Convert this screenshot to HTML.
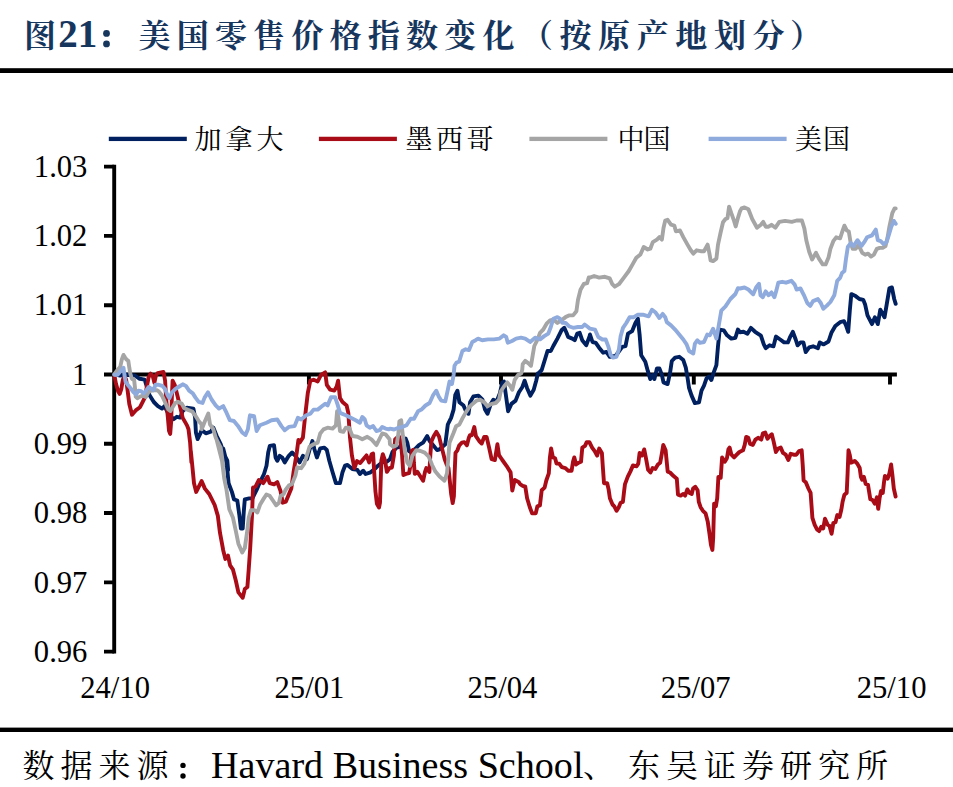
<!DOCTYPE html>
<html lang="zh"><head><meta charset="utf-8"><title>图21</title>
<style>html,body{margin:0;padding:0;background:#fff}body{width:953px;height:787px;overflow:hidden;position:relative;font-family:"Liberation Serif",serif}</style>
</head><body>
<svg width="953" height="787" viewBox="0 0 953 787" style="position:absolute;left:0;top:0">
<rect width="953" height="787" fill="#fff"/>
<text x="24" y="46.5" font-family="'Liberation Serif','Noto Serif CJK SC',serif" font-weight="bold" font-size="32" fill="#17365d">图</text>
<text x="58.2" y="46.5" font-family="Liberation Serif" font-weight="bold" font-size="39" fill="#17365d">21</text>
<circle cx="106.5" cy="33.4" r="3.4" fill="#17365d"/><circle cx="106.5" cy="43.9" r="3.4" fill="#17365d"/>
<text x="138.5" y="46.5" font-family="'Liberation Serif','Noto Serif CJK SC',serif" font-weight="bold" font-size="32" fill="#17365d" textLength="376" lengthAdjust="spacing">美国零售价格指数变化</text>
<text x="559.5" y="46.5" font-family="'Liberation Serif','Noto Serif CJK SC',serif" font-weight="bold" font-size="32" fill="#17365d" textLength="225" lengthAdjust="spacing">按原产地划分</text>
<text x="553" y="46.5" text-anchor="end" font-family="'Liberation Serif','Noto Serif CJK SC',serif" font-weight="bold" font-size="32" fill="#17365d">（</text>
<text x="790" y="46.5" font-family="'Liberation Serif','Noto Serif CJK SC',serif" font-weight="bold" font-size="32" fill="#17365d">）</text>
<rect x="0" y="68.2" width="953" height="4.8" fill="#000"/>
<rect x="0" y="727.6" width="953" height="4.4" fill="#000"/>
<rect x="108.8" y="136.75" width="78" height="4.3" fill="#002060"/>
<text x="194.5" y="148.5" font-family="'Liberation Serif','Noto Serif CJK SC',serif" font-size="27" fill="#000" textLength="89" lengthAdjust="spacing">加拿大</text>
<rect x="318.9" y="136.75" width="78" height="4.3" fill="#a90c17"/>
<text x="405.5" y="148.5" font-family="'Liberation Serif','Noto Serif CJK SC',serif" font-size="27" fill="#000" textLength="88" lengthAdjust="spacing">墨西哥</text>
<rect x="529.4" y="136.75" width="78" height="4.3" fill="#a5a5a5"/>
<text x="617.5" y="148.5" font-family="'Liberation Serif','Noto Serif CJK SC',serif" font-size="27" fill="#000" textLength="53" lengthAdjust="spacing">中国</text>
<rect x="708.6" y="136.75" width="78" height="4.3" fill="#8faadc"/>
<text x="795" y="148.5" font-family="'Liberation Serif','Noto Serif CJK SC',serif" font-size="27" fill="#000" textLength="55" lengthAdjust="spacing">美国</text>
<path d="M104,166.60 H114.2 M104,235.89 H114.2 M104,305.18 H114.2 M104,374.47 H114.2 M104,443.76 H114.2 M104,513.05 H114.2 M104,582.34 H114.2 M104,651.63 H114.2" stroke="#000" stroke-width="3.9" fill="none"/>
<line x1="114.2" y1="164.65" x2="114.2" y2="653.58" stroke="#000" stroke-width="3.9"/>
<line x1="114.2" y1="374.47" x2="896.9" y2="374.47" stroke="#000" stroke-width="3.9"/>
<path d="M308.9,374.47 V384.47 M501.0,374.47 V384.47 M693.8,374.47 V384.47 M890.0,374.47 V384.47" stroke="#000" stroke-width="3.9" fill="none"/>
<text x="87.4" y="176.8" text-anchor="end" font-family="Liberation Serif" font-size="30.6" fill="#000">1.03</text>
<text x="87.4" y="246.1" text-anchor="end" font-family="Liberation Serif" font-size="30.6" fill="#000">1.02</text>
<text x="87.4" y="315.4" text-anchor="end" font-family="Liberation Serif" font-size="30.6" fill="#000">1.01</text>
<text x="87.4" y="384.7" text-anchor="end" font-family="Liberation Serif" font-size="30.6" fill="#000">1</text>
<text x="87.4" y="454.0" text-anchor="end" font-family="Liberation Serif" font-size="30.6" fill="#000">0.99</text>
<text x="87.4" y="523.3" text-anchor="end" font-family="Liberation Serif" font-size="30.6" fill="#000">0.98</text>
<text x="87.4" y="592.5" text-anchor="end" font-family="Liberation Serif" font-size="30.6" fill="#000">0.97</text>
<text x="87.4" y="661.8" text-anchor="end" font-family="Liberation Serif" font-size="30.6" fill="#000">0.96</text>
<text x="115.1" y="698.0" text-anchor="middle" font-family="Liberation Serif" font-size="30.6" fill="#000">24/10</text>
<text x="309.4" y="698.0" text-anchor="middle" font-family="Liberation Serif" font-size="30.6" fill="#000">25/01</text>
<text x="502.4" y="698.0" text-anchor="middle" font-family="Liberation Serif" font-size="30.6" fill="#000">25/04</text>
<text x="695.7" y="698.0" text-anchor="middle" font-family="Liberation Serif" font-size="30.6" fill="#000">25/07</text>
<text x="891.6" y="698.0" text-anchor="middle" font-family="Liberation Serif" font-size="30.6" fill="#000">25/10</text>
<path d="M115.6,374.7 L119.9,375.5 L126.5,374.7 L134.8,375.5 L139.7,378.8 L144.7,379.6 L147.2,387.9 L149.6,395.3 L153.8,402.0 L157.9,406.1 L162.0,408.6 L164.5,406.1 L167.8,412.7 L173.6,419.3 L176.9,416.8 L180.2,417.6 L182.7,411.0 L186.8,407.7 L193.4,408.6 L195.1,417.6 L195.9,432.5 L197.6,439.1 L200.0,434.2 L201.7,430.0 L205.8,433.3 L210.8,431.7 L213.3,427.6 L216.6,435.8 L220.7,444.1 L224.0,454.0 L227.3,460.6 L228.1,470.0 L223.2,448.6 L226.5,461.6 L228.6,483.2 L231.9,491.9 L234.0,499.4 L237.3,500.5 L239.4,515.6 L240.9,528.6 L242.7,528.6 L243.8,511.3 L244.8,499.4 L249.2,498.4 L252.4,498.4 L254.6,494.0 L256.6,490.0 L259.9,482.3 L264.0,474.0 L266.5,465.7 L268.2,452.5 L269.8,445.9 L274.0,445.1 L275.6,457.5 L277.3,460.8 L279.7,455.8 L282.2,457.5 L284.7,462.4 L288.8,455.8 L292.1,452.5 L295.4,455.8 L299.6,462.4 L302.9,455.8 L307.0,459.1 L309.5,450.0 L312.4,441.0 L314.4,449.2 L316.9,457.5 L320.2,448.4 L324.3,447.6 L326.8,450.0 L329.3,460.8 L332.6,472.3 L335.9,483.1 L340.0,483.1 L342.5,472.3 L345.0,465.7 L347.5,464.9 L352.4,469.0 L357.4,469.9 L359.9,474.0 L363.2,470.7 L365.6,474.0 L370.6,472.3 L375.6,468.2 L378.0,465.7 L382.2,462.4 L387.1,461.6 L390.0,459.2 L392.5,451.8 L396.6,447.6 L399.9,446.8 L403.2,441.0 L405.7,438.6 L407.3,442.7 L409.0,451.0 L411.5,452.6 L414.8,449.3 L418.9,445.2 L423.0,442.7 L427.2,436.1 L429.6,441.0 L433.8,446.0 L437.1,450.1 L439.6,449.3 L445.3,444.3 L447.8,424.5 L451.1,417.9 L453.6,409.6 L455.3,394.8 L457.4,390.7 L459.4,402.2 L463.5,405.5 L466.0,411.3 L468.5,413.8 L470.1,402.2 L473.4,396.4 L478.4,395.6 L482.5,399.7 L485.0,409.6 L487.5,413.8 L490.8,403.9 L493.3,399.7 L496.6,401.4 L499.9,393.1 L502.3,382.4 L504.0,381.6 L505.6,393.1 L508.1,411.3 L511.4,403.9 L515.6,400.6 L518.9,392.3 L522.2,387.3 L524.6,380.7 L527.1,388.2 L530.4,395.6 L533.7,389.8 L536.2,380.7 L537.9,373.3 L538.4,373.3 L541.7,370.0 L545.0,359.2 L547.5,351.0 L550.8,351.0 L553.3,346.0 L557.4,338.6 L561.5,330.3 L564.3,327.8 L566.5,332.8 L568.1,336.9 L572.3,338.6 L574.7,340.2 L577.2,333.6 L579.7,332.8 L582.2,340.2 L586.3,345.2 L589.6,336.1 L590.0,334.5 L592.5,342.0 L595.8,342.8 L599.1,347.7 L603.2,352.7 L606.5,351.9 L609.8,356.8 L615.6,356.0 L622.2,346.9 L625.5,346.1 L628.0,333.7 L632.1,331.2 L635.4,323.0 L637.9,318.8 L639.6,334.5 L641.2,355.2 L645.3,361.8 L647.8,370.9 L650.3,379.1 L652.8,375.0 L654.4,379.1 L656.9,368.4 L659.4,368.4 L661.9,375.0 L663.5,382.4 L667.6,384.1 L670.1,372.5 L671.8,361.0 L675.1,357.6 L679.2,356.8 L683.3,360.1 L685.8,367.6 L687.5,377.5 L689.1,388.2 L691.6,395.6 L694.9,403.1 L699.0,402.3 L701.5,390.7 L704.0,385.7 L706.5,378.3 L708.9,376.6 L711.4,380.0 L713.1,374.2 L716.4,365.1 L718.0,346.1 L719.7,329.6 L723.8,330.4 L727.1,335.3 L731.3,338.6 L735.4,337.8 L737.9,329.6 L740.0,332.2 L743.5,331.8 L747.4,333.7 L750.9,327.9 L755.1,331.8 L760.9,335.7 L763.8,344.4 L765.7,348.2 L769.6,345.3 L773.5,346.3 L776.0,336.6 L780.2,339.5 L784.1,342.4 L787.9,342.4 L790.3,336.6 L792.8,331.8 L795.7,339.5 L797.6,345.3 L800.5,342.4 L803.4,342.4 L805.7,352.1 L809.2,347.3 L813.1,346.3 L817.9,348.2 L819.8,342.4 L823.7,344.4 L828.5,341.5 L831.4,332.8 L835.3,326.0 L840.1,322.2 L844.0,321.2 L845.9,325.1 L848.2,331.8 L849.8,310.6 L851.3,294.1 L855.6,296.1 L859.4,299.0 L863.3,299.9 L865.2,304.8 L867.5,315.4 L872.0,324.1 L874.9,317.3 L877.8,324.1 L880.3,309.6 L884.5,317.3 L886.8,303.8 L889.4,288.4 L891.9,287.4 L894.2,299.0 L895.7,303.8" fill="none" stroke="#002060" stroke-width="3.9" stroke-linejoin="round" stroke-linecap="round"/>
<path d="M115.6,374.7 L114.3,375.2 L116.0,383.8 L118.1,391.2 L119.7,393.9 L121.3,389.1 L122.9,379.5 L124.5,376.3 L126.1,379.5 L127.7,391.2 L129.3,404.0 L132.0,414.7 L135.7,410.4 L140.0,407.2 L142.7,401.9 L144.8,397.6 L147.0,385.9 L148.6,377.4 L150.7,373.6 L152.8,376.3 L154.4,382.7 L156.0,375.2 L157.6,373.1 L163.5,372.0 L165.1,380.6 L166.2,399.8 L167.8,416.8 L169.0,430.7 L170.2,433.9 L171.2,421.1 L171.8,398.7 L172.6,380.6 L174.7,384.8 L177.4,395.5 L180.0,406.2 L182.7,417.9 L187.0,425.4 L188.5,429.2 L190.1,442.4 L191.4,462.3 L190.8,450.8 L191.9,461.6 L194.0,483.2 L196.2,491.9 L201.6,481.1 L204.9,488.6 L209.2,494.0 L214.6,504.8 L217.8,515.6 L220.0,532.9 L223.2,550.2 L225.4,558.9 L228.0,555.6 L230.1,565.4 L233.0,569.7 L235.8,580.5 L238.4,592.4 L242.7,597.8 L244.8,589.1 L247.4,587.0 L248.7,569.7 L250.2,548.1 L252.0,515.6 L253.0,487.5 L255.6,486.5 L258.9,480.0 L263.2,483.2 L267.5,476.7 L269.7,483.2 L274.0,484.3 L277.3,482.1 L280.5,490.8 L282.7,502.7 L285.9,501.6 L288.1,496.2 L291.3,488.6 L293.5,472.4 L296.7,453.0 L298.4,440.0 L299.6,442.6 L302.9,437.6 L305.3,414.5 L307.8,393.0 L310.3,380.7 L313.6,379.8 L317.7,381.5 L321.0,374.9 L325.2,372.4 L326.8,384.8 L330.1,389.7 L334.3,390.6 L336.7,386.4 L338.1,380.7 L340.0,398.0 L342.5,402.1 L346.6,405.4 L348.3,412.9 L350.0,437.6 L351.9,455.4 L354.4,468.1 L357.0,461.1 L360.2,463.0 L363.3,459.2 L366.5,455.4 L369.1,462.4 L371.6,454.2 L373.1,453.5 L374.2,471.9 L375.4,491.0 L376.9,503.7 L379.0,507.5 L380.0,502.5 L380.6,483.4 L381.4,460.5 L382.8,454.2 L385.0,460.5 L386.9,471.9 L389.4,468.1 L391.9,467.5 L393.9,455.4 L395.1,439.5 L397.0,437.6 L398.9,436.4 L400.8,441.4 L402.1,455.4 L403.4,475.1 L405.9,473.9 L409.1,473.2 L410.4,465.6 L411.6,451.0 L413.2,449.7 L413.9,463.0 L414.8,473.9 L417.4,471.9 L419.9,475.8 L423.1,480.8 L425.0,471.9 L426.3,468.1 L429.4,471.9 L430.3,455.4 L431.4,441.4 L433.9,435.7 L436.4,431.9 L439.0,436.4 L440.9,444.0 L442.8,451.6 L444.7,459.2 L446.6,464.3 L448.5,468.1 L449.8,480.8 L451.1,493.6 L452.7,503.1 L453.9,496.1 L454.6,474.5 L455.5,452.9 L457.4,450.3 L459.3,445.3 L461.9,442.7 L464.4,442.1 L466.9,445.3 L468.9,437.6 L470.0,435.1 L471.8,435.3 L474.3,427.0 L475.9,436.1 L479.2,441.0 L481.7,443.5 L484.2,436.9 L486.6,436.9 L489.1,447.6 L491.6,459.2 L494.9,460.0 L497.4,444.3 L499.0,455.1 L502.3,460.0 L506.5,465.8 L510.6,472.4 L512.3,490.6 L514.7,479.9 L518.9,482.3 L520.0,484.1 L522.7,485.8 L525.3,486.7 L527.1,498.3 L529.8,507.2 L532.1,513.4 L535.7,513.4 L537.4,506.3 L539.9,505.4 L541.7,490.3 L544.6,487.6 L546.3,480.5 L548.8,473.4 L549.9,457.4 L551.1,448.5 L552.9,457.4 L555.1,458.3 L556.5,463.6 L559.2,463.6 L561.8,467.2 L565.4,468.1 L568.1,470.7 L571.6,470.7 L573.0,461.8 L574.3,457.4 L576.1,464.5 L578.7,462.7 L581.0,461.8 L582.3,447.6 L585.0,445.8 L586.7,442.2 L589.4,442.2 L592.1,447.6 L594.7,451.1 L597.1,455.6 L599.2,448.5 L601.9,452.9 L602.8,466.3 L604.0,483.2 L607.2,483.2 L608.6,489.4 L609.9,498.3 L612.5,504.5 L614.3,506.3 L616.6,510.8 L618.8,507.2 L620.6,502.8 L622.9,501.9 L624.1,491.2 L625.0,484.1 L627.7,476.9 L630.3,471.6 L633.0,465.4 L636.6,466.3 L638.3,463.6 L639.6,452.9 L641.9,455.6 L644.2,449.4 L646.0,458.3 L648.1,469.8 L650.5,472.5 L652.6,468.1 L655.3,468.9 L657.9,464.5 L660.2,462.7 L661.8,453.8 L663.3,444.9 L665.6,450.3 L667.7,471.6 L670.0,472.5 L673.6,476.1 L676.8,478.7 L678.0,494.7 L680.7,495.6 L683.3,493.9 L685.1,495.6 L687.3,489.4 L689.6,493.0 L691.7,493.9 L693.1,488.5 L695.3,486.7 L697.6,490.3 L698.8,501.9 L700.6,507.2 L702.9,510.8 L705.6,513.4 L707.7,521.4 L709.5,533.9 L710.9,544.6 L712.4,549.9 L713.2,537.5 L714.1,503.6 L715.9,506.3 L717.2,498.3 L718.4,476.9 L720.7,477.8 L722.1,457.4 L724.8,461.8 L726.9,458.3 L728.4,449.4 L729.6,447.6 L731.4,454.7 L734.1,457.4 L736.7,454.7 L739.4,452.0 L743.0,450.3 L744.7,444.9 L746.2,436.9 L748.3,437.8 L750.1,444.0 L752.8,444.9 L755.4,439.6 L758.1,437.8 L761.3,439.6 L762.9,433.3 L765.2,432.5 L767.5,438.7 L769.7,436.0 L771.8,434.2 L773.6,441.4 L775.9,452.0 L778.2,448.5 L780.7,447.6 L783.0,452.9 L785.7,454.7 L788.3,460.0 L790.7,453.8 L793.7,454.7 L796.4,454.7 L799.0,451.1 L801.7,450.3 L802.8,466.2 L803.6,480.5 L805.8,482.2 L808.4,488.5 L810.6,492.9 L811.5,505.3 L812.4,517.8 L814.7,524.9 L817.0,529.4 L819.1,531.1 L821.3,526.7 L823.2,528.5 L825.0,518.7 L827.7,524.9 L829.4,525.8 L831.6,533.8 L833.3,523.1 L835.5,522.2 L837.3,515.1 L839.6,516.9 L841.3,509.8 L842.6,501.8 L844.4,494.7 L846.7,492.9 L847.6,473.3 L848.5,450.2 L849.7,454.7 L851.1,462.7 L854.7,460.9 L857.3,463.6 L859.7,468.0 L860.9,476.9 L862.1,479.6 L863.9,476.9 L865.7,484.0 L868.0,484.9 L869.3,492.9 L870.3,499.1 L872.5,500.0 L874.8,503.6 L876.9,497.3 L878.2,508.9 L879.6,498.2 L881.0,491.1 L882.8,492.9 L884.0,482.2 L884.9,476.0 L887.6,478.7 L889.4,473.3 L891.1,464.5 L892.4,475.1 L893.8,488.5 L895.6,496.5" fill="none" stroke="#a90c17" stroke-width="3.9" stroke-linejoin="round" stroke-linecap="round"/>
<path d="M115.6,374.7 L114.3,374.2 L116.0,372.0 L118.1,369.3 L120.3,366.7 L121.9,359.2 L123.5,354.9 L125.1,357.6 L126.7,359.7 L128.3,360.8 L129.3,367.7 L130.4,374.2 L132.0,379.0 L134.1,379.5 L134.9,387.0 L135.7,396.6 L137.3,398.2 L140.0,396.6 L143.2,395.5 L145.9,397.1 L148.0,392.8 L150.7,390.7 L153.9,390.2 L157.1,390.2 L159.2,391.8 L161.9,395.5 L164.0,399.8 L166.2,405.1 L168.3,409.4 L170.4,411.0 L172.6,407.2 L175.2,403.0 L177.9,401.9 L181.6,403.5 L184.3,408.3 L188.0,409.9 L192.3,411.5 L195.5,415.8 L198.7,421.1 L201.4,424.3 L201.7,429.2 L205.0,421.0 L208.3,413.5 L210.0,424.3 L213.3,429.2 L215.7,437.5 L218.2,443.3 L220.7,447.4 L223.2,465.6 L216.7,440.0 L220.0,446.5 L222.1,461.6 L224.3,478.9 L226.5,489.7 L229.3,509.2 L233.0,517.8 L235.8,530.8 L238.4,543.7 L242.2,552.4 L244.8,548.1 L247.0,532.9 L248.7,517.8 L250.9,510.2 L254.6,510.2 L257.4,512.4 L260.0,504.8 L263.2,499.4 L266.4,494.5 L269.7,495.8 L272.9,500.5 L276.2,505.3 L279.0,502.7 L280.5,496.2 L283.7,494.0 L285.5,490.0 L288.8,485.6 L292.1,483.9 L295.4,475.6 L297.1,467.4 L301.2,468.2 L304.5,463.3 L307.0,455.0 L309.5,446.7 L313.6,444.3 L317.7,442.6 L320.2,433.5 L323.5,429.4 L327.6,427.7 L332.6,428.6 L335.9,425.3 L337.1,411.2 L338.4,417.8 L340.0,431.0 L343.3,431.9 L345.8,427.7 L349.1,427.7 L352.4,436.0 L357.4,436.8 L362.3,439.3 L367.3,436.8 L371.4,439.3 L376.4,445.1 L379.7,438.5 L382.2,433.5 L385.5,434.3 L389.6,439.3 L390.0,444.3 L393.3,446.8 L396.6,445.2 L398.3,434.4 L399.4,421.2 L401.2,420.4 L402.9,436.1 L404.9,451.0 L407.3,462.5 L409.8,465.8 L412.3,455.9 L416.4,450.1 L420.6,451.0 L424.7,452.6 L428.8,456.7 L432.1,465.0 L435.4,471.6 L439.6,476.6 L444.5,480.7 L447.0,473.3 L448.2,459.2 L449.5,442.7 L453.6,432.8 L456.1,426.2 L459.4,424.5 L462.7,417.9 L466.0,412.1 L469.3,407.2 L472.6,403.9 L476.7,400.6 L480.0,399.7 L484.2,402.2 L487.5,406.3 L491.6,403.9 L495.7,403.0 L499.0,399.7 L500.7,391.5 L504.0,386.5 L507.3,382.4 L510.6,386.5 L512.3,389.8 L514.7,379.9 L518.0,375.0 L521.3,373.3 L522.2,370.0 L522.7,364.2 L525.2,360.9 L528.5,363.3 L531.0,365.8 L532.6,355.9 L534.3,346.0 L537.6,339.4 L540.0,332.8 L543.3,329.5 L546.6,323.7 L550.0,320.4 L553.3,319.6 L557.4,322.9 L562.3,319.6 L565.6,317.1 L568.9,315.4 L573.1,315.4 L576.4,311.3 L578.0,299.7 L580.5,289.8 L583.8,284.0 L587.1,283.2 L588.8,277.4 L590.0,277.6 L594.1,276.0 L599.1,277.6 L604.9,276.8 L609.8,278.4 L612.3,284.2 L614.8,286.7 L618.9,284.2 L623.9,277.6 L628.8,271.0 L633.0,263.6 L636.3,257.8 L640.4,254.5 L643.7,247.0 L647.8,249.5 L650.3,248.7 L652.8,242.1 L656.9,239.6 L659.4,237.1 L661.9,239.6 L663.5,228.0 L665.2,220.6 L667.6,219.8 L671.0,224.7 L674.3,225.6 L675.9,231.3 L680.0,230.5 L683.3,237.1 L687.5,244.6 L690.8,250.3 L693.3,253.6 L696.6,250.3 L700.7,251.2 L704.0,251.2 L707.6,244.6 L709.3,252.8 L710.6,260.3 L713.1,261.1 L716.4,258.6 L718.0,244.6 L720.5,233.0 L723.0,222.3 L725.5,219.0 L727.5,218.1 L729.1,206.6 L731.3,213.2 L733.7,219.8 L735.7,226.4 L737.9,218.1 L740.0,211.2 L741.6,208.4 L744.5,207.4 L748.4,209.3 L752.2,219.0 L757.0,227.7 L760.9,224.8 L763.2,221.9 L765.7,226.7 L768.6,226.7 L771.5,224.8 L775.4,227.7 L779.3,221.9 L785.1,220.9 L791.8,221.9 L796.6,220.5 L801.9,220.5 L804.4,228.6 L806.3,240.2 L809.2,251.8 L812.1,259.5 L816.0,252.8 L818.9,258.6 L822.7,264.4 L825.6,264.4 L828.5,257.6 L830.4,248.9 L833.3,241.2 L836.2,237.3 L840.1,238.3 L842.0,232.5 L844.4,225.7 L846.9,230.6 L848.8,231.5 L850.7,243.1 L852.7,248.9 L855.6,248.9 L858.5,245.1 L862.3,252.8 L865.2,254.7 L868.1,253.7 L871.0,256.6 L873.9,254.7 L876.8,248.9 L879.7,247.9 L882.6,247.9 L885.5,246.0 L887.4,238.3 L889.4,226.7 L892.3,213.2 L894.6,208.4 L895.7,208.4" fill="none" stroke="#a5a5a5" stroke-width="3.9" stroke-linejoin="round" stroke-linecap="round"/>
<path d="M115.6,374.7 L114.3,374.7 L117.6,374.7 L120.8,370.9 L123.5,367.7 L124.5,375.2 L125.6,381.6 L127.7,384.8 L130.4,388.0 L133.6,392.3 L136.3,394.4 L138.4,390.7 L141.1,391.2 L143.8,393.4 L146.4,390.2 L148.6,387.0 L151.2,388.6 L153.4,390.2 L155.5,384.8 L158.7,384.8 L162.4,385.9 L165.1,389.1 L167.2,394.4 L169.4,398.2 L172.0,392.3 L175.2,389.1 L178.4,387.0 L182.7,384.3 L185.9,385.9 L189.1,390.7 L192.8,393.4 L195.5,397.6 L198.7,401.9 L202.5,403.0 L204.6,397.6 L208.0,392.3 L211.6,399.5 L215.7,405.3 L219.0,408.6 L223.2,406.1 L226.5,412.7 L229.8,420.1 L233.9,421.0 L238.0,425.9 L242.2,432.5 L245.5,435.0 L247.9,429.2 L249.6,417.6 L250.0,415.3 L254.1,416.2 L256.6,431.0 L259.9,425.3 L266.5,422.8 L271.5,420.3 L277.3,419.5 L281.4,426.1 L284.7,430.2 L288.8,426.9 L294.6,426.1 L297.9,417.8 L301.2,419.5 L306.2,415.3 L310.3,413.7 L313.6,409.6 L317.7,409.6 L321.9,406.3 L325.2,403.8 L327.6,405.4 L331.0,397.2 L335.1,397.2 L337.6,404.6 L340.0,412.9 L345.8,415.3 L350.8,417.8 L355.7,420.3 L359.9,422.8 L362.3,417.0 L364.8,419.5 L366.5,425.3 L369.8,427.7 L373.1,426.1 L376.4,431.0 L379.7,430.2 L382.2,426.9 L385.5,428.6 L388.8,429.4 L390.0,428.6 L394.1,429.5 L398.3,427.8 L402.4,427.0 L406.5,425.3 L410.7,418.7 L414.0,418.7 L418.1,411.3 L421.4,409.6 L425.5,405.5 L429.6,403.0 L433.3,394.8 L436.3,390.7 L438.7,396.4 L441.2,400.6 L445.3,401.4 L447.8,389.8 L449.5,381.6 L452.0,384.0 L453.6,375.0 L454.5,365.8 L456.6,362.5 L459.1,361.7 L462.4,351.0 L465.7,349.3 L469.0,350.1 L472.3,341.9 L475.6,340.2 L478.1,338.6 L482.2,340.2 L488.0,339.4 L493.8,339.4 L499.6,338.6 L503.7,335.3 L506.2,336.9 L507.8,342.7 L512.0,341.0 L516.1,338.6 L521.0,337.7 L525.2,338.6 L530.1,341.9 L535.1,337.7 L540.0,339.4 L544.2,336.1 L548.3,333.6 L550.8,327.0 L553.3,318.7 L557.4,317.1 L559.9,318.7 L562.3,322.9 L565.6,322.9 L568.9,326.2 L573.1,327.8 L578.0,327.0 L582.2,327.0 L584.6,324.5 L587.9,327.0 L590.0,328.7 L595.0,329.6 L598.3,337.0 L602.4,339.5 L605.7,339.5 L608.2,346.1 L610.7,355.2 L613.1,357.6 L616.4,356.8 L618.9,349.4 L620.6,336.2 L623.0,327.9 L626.3,323.0 L629.6,317.2 L633.8,317.2 L637.9,314.7 L642.9,314.7 L648.6,316.3 L652.0,309.7 L655.3,312.2 L659.4,318.0 L662.7,313.9 L665.2,317.2 L666.8,322.1 L671.0,325.4 L675.1,329.6 L679.2,334.5 L683.3,339.5 L686.6,344.4 L689.1,351.0 L693.3,353.5 L694.9,343.6 L697.4,340.3 L699.9,342.8 L704.0,342.0 L707.3,334.5 L709.8,335.3 L713.1,328.7 L716.4,338.6 L718.9,324.6 L721.3,310.6 L725.5,306.4 L730.4,299.0 L735.4,294.0 L737.9,288.3 L740.0,288.5 L744.5,287.5 L748.4,289.5 L753.2,294.3 L756.1,287.5 L759.0,283.7 L760.5,295.3 L762.8,297.2 L765.7,291.4 L768.6,295.3 L771.5,292.4 L774.4,297.2 L776.4,290.4 L778.3,282.7 L782.2,281.8 L786.0,282.7 L791.4,280.8 L794.7,284.6 L796.6,289.5 L800.5,288.5 L804.4,296.2 L807.3,303.0 L810.2,305.9 L813.1,301.1 L817.9,299.1 L820.8,303.0 L823.3,308.8 L826.6,305.9 L830.4,302.0 L834.3,295.3 L837.2,280.8 L840.1,277.9 L842.0,273.1 L844.4,271.1 L845.9,259.5 L847.8,247.0 L850.7,243.1 L853.6,246.0 L857.5,240.2 L861.4,246.0 L864.2,242.2 L867.1,237.3 L872.0,235.4 L875.8,229.6 L877.8,240.2 L880.7,241.2 L883.6,244.1 L886.5,242.2 L888.4,236.4 L891.3,226.7 L893.8,220.9 L895.7,223.8" fill="none" stroke="#8faadc" stroke-width="3.9" stroke-linejoin="round" stroke-linecap="round"/>
<text x="22.5" y="777" font-family="'Liberation Serif','Noto Serif CJK SC',serif" font-size="32" fill="#000" textLength="146" lengthAdjust="spacing">数据来源</text>
<circle cx="183" cy="765.4" r="2.7" fill="#000"/><circle cx="183" cy="776" r="2.7" fill="#000"/>
<text x="211" y="777.6" font-family="Liberation Serif" font-size="38" fill="#000" textLength="372.5" lengthAdjust="spacingAndGlyphs">Havard Business School</text>
<text x="583" y="777" font-family="'Liberation Serif','Noto Serif CJK SC',serif" font-size="32" fill="#000">、</text>
<text x="628" y="777" font-family="'Liberation Serif','Noto Serif CJK SC',serif" font-size="32" fill="#000" textLength="260" lengthAdjust="spacing">东吴证券研究所</text>
</svg>
</body></html>
